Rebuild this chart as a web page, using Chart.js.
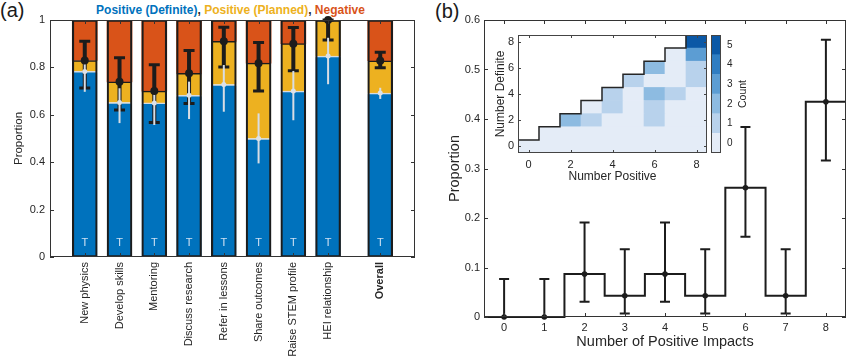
<!DOCTYPE html>
<html><head><meta charset="utf-8">
<script src="https://cdn.jsdelivr.net/npm/chart.js@4.4.1/dist/chart.umd.min.js"></script>
<style>
html,body{margin:0;padding:0;background:#fff;}
body{width:850px;height:357px;position:relative;overflow:hidden;font-family:'Liberation Sans',Arial,sans-serif;}
canvas{position:absolute;}
.lbl{position:absolute;font-size:20px;line-height:20px;color:#1a1a1a;}
#ttl{position:absolute;left:0;width:461px;text-align:center;top:3px;font-size:12px;line-height:14px;font-weight:bold;white-space:nowrap;}
</style></head><body>
<div class="lbl" style="left:0;top:0">(a)</div>
<div class="lbl" style="left:435px;top:1px">(b)</div>
<div id="ttl"><span style="color:#0072BD">Positive (Definite)</span><span style="color:#262626">, </span><span style="color:#EDB120">Positive (Planned)</span><span style="color:#262626">, </span><span style="color:#D95319">Negative</span></div>
<canvas id="cA" width="430" height="357" style="left:0;top:0"></canvas>
<canvas id="cB" width="420" height="357" style="left:430px;top:0"></canvas>
<canvas id="cC" width="245" height="175" style="left:470px;top:20px"></canvas>
<canvas id="cD" width="60" height="150" style="left:700px;top:20px"></canvas>
<script>
// ---------------- DATA ----------------
// Panel (a)
const impactNames = ['New physics','Develop skills','Mentoring','Discuss research','Refer in lessons','Share outcomes','Raise STEM profile','HEI relationship','Overall'];
const impactPos   = [1, 2, 3, 4, 5, 6, 7, 8, 9.5];
const propDefinite = [0.783, 0.652, 0.650, 0.682, 0.728, 0.500, 0.700, 0.848, 0.692];
const propPositive = [0.829, 0.739, 0.700, 0.775, 0.910, 0.818, 0.900, 1.000, 0.828];
const positiveLo   = [0.713, 0.620, 0.568, 0.648, 0.802, 0.700, 0.786, 0.916, 0.799];
const positiveHi   = [0.910, 0.841, 0.811, 0.871, 0.969, 0.905, 0.968, 1.000, 0.864];
const definiteLo   = [0.697, 0.565, 0.557, 0.582, 0.613, 0.395, 0.577, 0.729, 0.667];
const definiteHi   = [0.824, 0.712, 0.690, 0.740, 0.810, 0.606, 0.785, 0.925, 0.714];
const barMarks     = ['T','T','T','T','T','T','T','T','T'];
const yTicksA      = [0, 0.2, 0.4, 0.6, 0.8, 1];

// Panel (b)
const nPositive   = [0, 1, 2, 3, 4, 5, 6, 7, 8];
const propImpacts = [0, 0, 0.087, 0.043, 0.087, 0.043, 0.261, 0.043, 0.435];
const impactsLo   = [0, 0, 0.031, 0.007, 0.031, 0.007, 0.162, 0.007, 0.316];
const impactsHi   = [0.077, 0.077, 0.191, 0.137, 0.191, 0.137, 0.384, 0.137, 0.560];
const yTicksB     = [0, 0.1, 0.2, 0.3, 0.4, 0.5, 0.6];

// Inset: counts by number definite (rows) for number positive = definite..8
const numDefinite = [0, 1, 2, 3, 4, 5, 6, 7, 8];
const heatCounts = [
  [0,0,0,0,0,0,0,0,0],
  [0,0,0,0,0,0,0,0],
  [2,1,0,0,1,0,0],
  [0,1,0,1,0,0],
  [1,0,2,1,0],
  [1,0,0,1],
  [2,0,1],
  [0,3],
  [5]
];
const insetTicks  = [0, 2, 4, 6, 8];
const countLevels = [0, 1, 2, 3, 4, 5];

// ---------------- STYLE ----------------
const FONT = "'Liberation Sans', Arial, sans-serif";
const TXT = '#262626';
const LINE = '#333333';
const countColors = ['#e4ecf7', '#b8d2ec', '#8dbbe1', '#5c9dd3', '#2f7dc2', '#0b58a6'];
Chart.defaults.font.family = FONT;
Chart.defaults.color = TXT;
const fmt = v => String(Math.round(v * 10) / 10);
const setTicks = arr => s => { s.ticks = arr.map(v => ({ value: v })); };

const boxPlugin = {
  id: 'box',
  beforeDatasetsDraw(chart, args, o) {
    if (!o.fill) return;
    const a = chart.chartArea, ctx = chart.ctx;
    ctx.save(); ctx.fillStyle = o.fill;
    ctx.fillRect(a.left, a.top, a.right - a.left, a.bottom - a.top);
    ctx.restore();
  },
  afterDraw(chart, args, o) {
    const { ctx, chartArea: a } = chart;
    const L = o.len || 4;
    ctx.save();
    ctx.strokeStyle = o.color || LINE;
    ctx.lineWidth = 1;
    ctx.beginPath();
    const xs = chart.scales.x, ys = chart.scales.y;
    if (o.xTicks) xs.ticks.forEach((t, i) => {
      const px = Math.round(xs.getPixelForTick(i)) + 0.5;
      ctx.moveTo(px, a.bottom); ctx.lineTo(px, a.bottom - L);
      ctx.moveTo(px, a.top); ctx.lineTo(px, a.top + L);
    });
    if (o.yTicks) ys.ticks.forEach((t, i) => {
      const py = Math.round(ys.getPixelForTick(i)) + 0.5;
      ctx.moveTo(a.left, py); ctx.lineTo(a.left + L, py);
      ctx.moveTo(a.right, py); ctx.lineTo(a.right - L, py);
    });
    ctx.stroke();
    ctx.strokeRect(Math.round(a.left) + 0.5, Math.round(a.top) + 0.5,
                   Math.round(a.right - a.left) - 1, Math.round(a.bottom - a.top) - 1);
    if (o.sideText) {
      ctx.fillStyle = TXT; ctx.font = o.sideText.font;
      ctx.textAlign = 'center'; ctx.textBaseline = 'middle';
      ctx.translate(a.right + o.sideText.dx, (a.top + a.bottom) / 2);
      ctx.rotate(-Math.PI / 2);
      ctx.fillText(o.sideText.text, 0, 0);
    }
    ctx.restore();
  }
};

function drawErr(chart, xs, lo, hi, color, lw, capW, capLw) {
  const { ctx } = chart; const X = chart.scales.x, Y = chart.scales.y;
  ctx.save(); ctx.strokeStyle = color; ctx.lineCap = 'butt';
  xs.forEach((x, i) => {
    const px = X.getPixelForValue(x), y1 = Y.getPixelForValue(lo[i]), y2 = Y.getPixelForValue(hi[i]);
    ctx.lineWidth = lw; ctx.beginPath(); ctx.moveTo(px, y1); ctx.lineTo(px, y2); ctx.stroke();
    if (capW) {
      ctx.lineWidth = capLw; ctx.beginPath();
      ctx.moveTo(px - capW / 2, y1); ctx.lineTo(px + capW / 2, y1);
      ctx.moveTo(px - capW / 2, y2); ctx.lineTo(px + capW / 2, y2);
      ctx.stroke();
    }
  });
  ctx.restore();
}

const baseOpts = {
  responsive: false, animation: false, devicePixelRatio: 1,
};
const noLegend = { legend: { display: false }, tooltip: { enabled: false } };

// ---------------- PANEL (a) ----------------
const pts = ys => impactPos.map((x, i) => ({ x, y: ys[i] }));
new Chart(document.getElementById('cA'), {
  type: 'bar',
  data: {
    datasets: [
      { type: 'line', label: 'defMarker', data: pts(propDefinite), showLine: false, pointRadius: 2.5,
        pointBackgroundColor: '#dde2e8', pointBorderWidth: 0, order: 0, clip: false },
      { type: 'line', label: 'posMarker', data: pts(propPositive), showLine: false, pointRadius: 4,
        pointBackgroundColor: '#1c1c1c', pointBorderWidth: 0, order: 1, clip: false },
      { type: 'bar', label: 'outline', data: impactPos.map(x => ({ x, y: [0, 1] })),
        backgroundColor: 'rgba(0,0,0,0)', borderColor: '#1c1c1c', borderWidth: 1.5, borderSkipped: false, order: 3 },
      { type: 'bar', label: 'Positive (Definite)', data: impactPos.map((x, i) => ({ x, y: [0, propDefinite[i]] })),
        backgroundColor: '#0072BD', borderColor: '#d5dbe2', borderWidth: { top: 1.5, left: 0, right: 0, bottom: 0 },
        borderSkipped: false, order: 4 },
      { type: 'bar', label: 'Positive (Planned)', data: impactPos.map((x, i) => ({ x, y: [propDefinite[i], propPositive[i]] })),
        backgroundColor: '#EDB120', borderColor: '#1c1c1c', borderWidth: { top: 1.5, left: 0, right: 0, bottom: 0 },
        borderSkipped: false, order: 5 },
      { type: 'bar', label: 'Negative', data: impactPos.map((x, i) => ({ x, y: [propPositive[i], 1] })),
        backgroundColor: '#D95319', borderWidth: 0, order: 6 }
    ]
  },
  options: {
    ...baseOpts,
    layout: { padding: { left: 0, top: 20, right: 15, bottom: 0 } },
    datasets: { bar: { grouped: false, barPercentage: 1, categoryPercentage: 1, maxBarThickness: 25 } },
    scales: {
      x: { type: 'linear', min: 0, max: 10.5, offset: false,
        afterBuildTicks: setTicks(impactPos), afterFit: s => { s.height = 100; },
        grid: { display: false, drawTicks: false, offset: false }, border: { display: false },
        ticks: { autoSkip: false, minRotation: 90, maxRotation: 90, padding: 5, color: TXT,
          font: c => ({ family: FONT, size: 11, weight: c.index === impactNames.length - 1 ? 'bold' : 'normal' }),
          callback: (v, i) => impactNames[i] } },
      y: { type: 'linear', min: 0, max: 1,
        afterBuildTicks: setTicks(yTicksA), afterFit: s => { s.width = 50; },
        grid: { display: false, drawTicks: false }, border: { display: false },
        ticks: { padding: 5, color: TXT, font: { family: FONT, size: 11 }, callback: v => fmt(v) },
        title: { display: true, text: 'Proportion', color: TXT, font: { family: FONT, size: 11.5 }, padding: { top: 12, bottom: 0 } } }
    },
    plugins: { ...noLegend, box: { xTicks: true, yTicks: true, len: 4 } }
  },
  plugins: [boxPlugin, {
    id: 'errA',
    afterDatasetDraw(chart, args) {
      if (args.meta.label === 'Positive (Definite)') {
        const { ctx } = chart; const X = chart.scales.x, Y = chart.scales.y;
        ctx.save(); ctx.fillStyle = '#cfe0f2'; ctx.font = '11px ' + FONT;
        ctx.textAlign = 'center'; ctx.textBaseline = 'middle';
        impactPos.forEach((x, i) => ctx.fillText(barMarks[i], X.getPixelForValue(x), Y.getPixelForValue(0) - 14));
        ctx.restore();
      }
      if (args.meta.label === 'outline') {
        drawErr(chart, impactPos, positiveLo, positiveHi, '#1c1c1c', 4, 11, 3);
        drawErr(chart, impactPos, definiteLo, definiteHi, '#d8dde4', 2, 0, 0);
      }
    }
  }]
});

// ---------------- PANEL (b) ----------------
const stepPts = nPositive.map((x, i) => ({ x: x - 0.5, y: propImpacts[i] }))
  .concat([{ x: nPositive[nPositive.length - 1] + 0.5, y: propImpacts[propImpacts.length - 1] }]);
new Chart(document.getElementById('cB'), {
  type: 'line',
  data: {
    datasets: [
      { label: 'step', data: stepPts, stepped: 'before', borderColor: '#1c1c1c', borderWidth: 2,
        pointRadius: 0, fill: false, order: 2, clip: false },
      { label: 'points', data: nPositive.map((x, i) => ({ x, y: propImpacts[i] })), showLine: false,
        pointRadius: 2.8, pointBackgroundColor: '#1c1c1c', pointBorderWidth: 0, order: 0, clip: false }
    ]
  },
  options: {
    ...baseOpts,
    layout: { padding: { left: 0, top: 20, right: 1, bottom: 0 } },
    scales: {
      x: { type: 'linear', min: -0.5, max: 8.5,
        afterBuildTicks: setTicks(nPositive), afterFit: s => { s.height = 40; },
        grid: { display: false, drawTicks: false }, border: { display: false },
        ticks: { padding: 4, color: TXT, font: { family: FONT, size: 11 }, callback: v => String(v) },
        title: { display: true, text: 'Number of Positive Impacts', color: TXT, font: { family: FONT, size: 14.5 }, padding: { top: 0, bottom: 6.3 } } },
      y: { type: 'linear', min: 0, max: 0.6,
        afterBuildTicks: setTicks(yTicksB), afterFit: s => { s.width = 54; },
        grid: { display: false, drawTicks: false }, border: { display: false },
        ticks: { padding: 4, color: TXT, font: { family: FONT, size: 11 }, callback: v => fmt(v) },
        title: { display: true, text: 'Proportion', color: TXT, font: { family: FONT, size: 14.5 }, padding: { top: 16.3, bottom: 0 } } }
    },
    plugins: { ...noLegend, box: { xTicks: true, yTicks: true, len: 4 } }
  },
  plugins: [boxPlugin, {
    id: 'errB',
    afterDatasetDraw(chart, args) {
      if (args.meta.label === 'step') drawErr(chart, nPositive, impactsLo, impactsHi, '#1c1c1c', 2, 10, 2);
    }
  }]
});

// ---------------- INSET ----------------
const heatSets = numDefinite.map((d, k) => ({
  type: 'bar', label: 'd' + d,
  data: heatCounts[k].map((c, j) => ({ x: d + j, y: [d - 0.5, d + 0.5] })),
  backgroundColor: heatCounts[k].map(c => countColors[c]),
  borderWidth: 0, order: 2
}));
const stairPts = nPositive.map(p => ({ x: p - 0.5, y: p + 0.5 }));
new Chart(document.getElementById('cC'), {
  type: 'bar',
  data: {
    datasets: [
      { type: 'line', label: 'stair', data: stairPts, stepped: 'before', borderColor: '#262626', borderWidth: 1.5,
        pointRadius: 0, fill: false, order: 0, clip: false }
    ].concat(heatSets)
  },
  options: {
    ...baseOpts,
    layout: { padding: { left: 0, top: 15, right: 8, bottom: 0 } },
    datasets: { bar: { grouped: false, barPercentage: 1, categoryPercentage: 1 } },
    scales: {
      x: { type: 'linear', min: -0.5, max: 8.5, offset: false,
        afterBuildTicks: setTicks(insetTicks), afterFit: s => { s.height = 42; },
        grid: { display: false, drawTicks: false, offset: false }, border: { display: false },
        ticks: { padding: 5, color: TXT, font: { family: FONT, size: 11 }, callback: v => String(v) },
        title: { display: true, text: 'Number Positive', color: TXT, font: { family: FONT, size: 12 }, padding: { top: 0, bottom: 11 } } },
      y: { type: 'linear', min: -0.5, max: 8.5,
        afterBuildTicks: setTicks(insetTicks), afterFit: s => { s.width = 48; },
        grid: { display: false, drawTicks: false }, border: { display: false },
        ticks: { padding: 4, color: TXT, font: { family: FONT, size: 11 }, callback: v => String(v) },
        title: { display: true, text: 'Number Definite', color: TXT, font: { family: FONT, size: 12 }, padding: { top: 23.5, bottom: 0 } } }
    },
    plugins: { ...noLegend, box: { xTicks: true, yTicks: true, len: 3, fill: '#ffffff', color: '#444' } }
  },
  plugins: [boxPlugin]
});

// ---------------- COLORBAR ----------------
new Chart(document.getElementById('cD'), {
  type: 'bar',
  data: {
    datasets: countLevels.map(k => ({
      label: 'c' + k, data: [{ x: 0, y: [k - 0.5, k + 0.5] }], backgroundColor: countColors[k], borderWidth: 0
    }))
  },
  options: {
    ...baseOpts,
    layout: { padding: { left: 11, top: 15, right: 0, bottom: 17 } },
    datasets: { bar: { grouped: false, barPercentage: 1, categoryPercentage: 1 } },
    scales: {
      x: { type: 'linear', min: -0.5, max: 0.5, display: false, offset: false },
      y: { type: 'linear', position: 'right', min: -0.5, max: 5.5,
        afterBuildTicks: setTicks(countLevels), afterFit: s => { s.width = 39; },
        grid: { display: false, drawTicks: false }, border: { display: false },
        ticks: { padding: 6, color: TXT, font: { family: FONT, size: 10 }, callback: v => String(v) } }
    },
    plugins: { ...noLegend, box: { xTicks: false, yTicks: false, color: '#444',
      sideText: { text: 'Count', font: '10.5px ' + FONT, dx: 22 } } }
  },
  plugins: [boxPlugin]
});
</script>
</body></html>
